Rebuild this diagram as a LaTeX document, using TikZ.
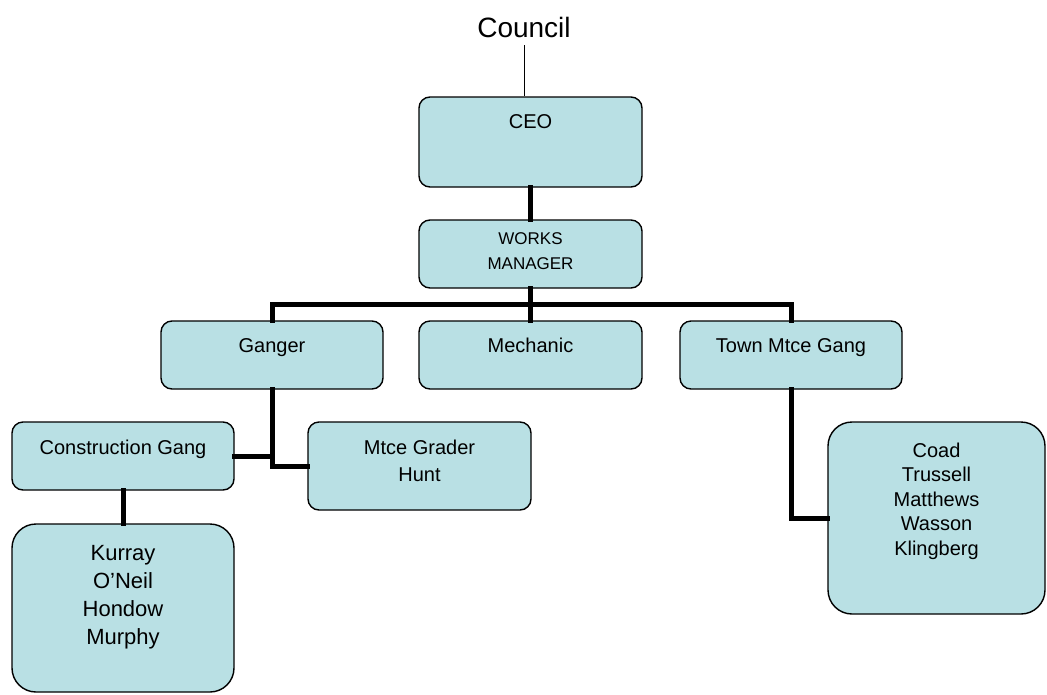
\documentclass[tikz,border=0pt]{standalone}
\usepackage{fontspec}
\setmainfont{Liberation Sans}
\definecolor{boxfill}{RGB}{185,224,228}
\tikzset{
  orgbox/.style={draw=black, line width=1.4pt, fill=boxfill, rounded corners=11pt, inner sep=0pt},
  bigbox/.style={orgbox, rounded corners=24pt},
  lbl/.style={inner sep=0pt, align=center, font=\fontsize{20}{24}\selectfont},
  lblb/.style={lbl, anchor=base},
  link/.style={line width=5pt, line cap=rect},
  thin/.style={line width=1pt}
}
\begin{document}
\begin{tikzpicture}[x=1pt,y=-1pt]
\useasboundingbox (0,0) rectangle (1047,694);
% boxes
\node[orgbox, minimum width=223pt, minimum height=90pt] (ceo) at (530.5,142) {};
\node[orgbox, minimum width=223pt, minimum height=68pt] (wm) at (530.5,254) {};
\node[orgbox, minimum width=222pt, minimum height=68pt] (ganger) at (272,355) {};
\node[orgbox, minimum width=223pt, minimum height=68pt] (mech) at (530.5,355) {};
\node[orgbox, minimum width=222pt, minimum height=68pt] (town) at (791,355) {};
\node[orgbox, minimum width=222pt, minimum height=68pt] (cg) at (123,456) {};
\node[orgbox, minimum width=223pt, minimum height=88pt] (mg) at (419.5,466) {};
\node[bigbox, minimum width=222pt, minimum height=168pt] (bl) at (123,608) {};
\node[bigbox, minimum width=217pt, minimum height=192pt] (rb) at (936.5,518) {};
% texts
\node[lblb, font=\fontsize{28}{32}\selectfont] (council) at (524,37) {Council};
\node[lblb] (tceo) at (530.5,128) {CEO};
\node[lbl, font=\fontsize{17}{25}\selectfont] (twm) at (530.5,251) {WORKS\\MANAGER};
\node[lblb] (tganger) at (272,352.5) {Ganger};
\node[lblb] (tmech) at (530.5,352.5) {Mechanic};
\node[lblb] (ttown) at (791,352.5) {Town Mtce Gang};
\node[lblb] (tcg) at (123,454.5) {Construction Gang};
\node[lbl, font=\fontsize{20}{27}\selectfont] (tmg) at (419.5,461) {Mtce Grader\\Hunt};
\node[lbl, font=\fontsize{22}{28}\selectfont] (tbl) at (123,597) {Kurray\\O’Neil\\Hondow\\Murphy};
\node[lbl, font=\fontsize{20}{24.5}\selectfont] (trb) at (936.5,501) {Coad\\Trussell\\Matthews\\Wasson\\Klingberg};
% connectors
\coordinate (bus) at (530.5,304);
\draw[thin] ([yshift=-8pt]council.south) -- (council.south |- ceo.north);
\draw[link] (ceo.south) -- (wm.north);
\draw[link] (wm.south) -- (mech.north);
\draw[link] (ganger.north) |- (bus) -| (town.north);
\draw[link] (ganger.south) |- (mg.west);
\draw[link] (cg.east) -- (cg.east -| ganger.south);
\draw[link] (cg.south) -- (bl.north);
\draw[link] (town.south) |- (rb.west);
\end{tikzpicture}
\end{document}
